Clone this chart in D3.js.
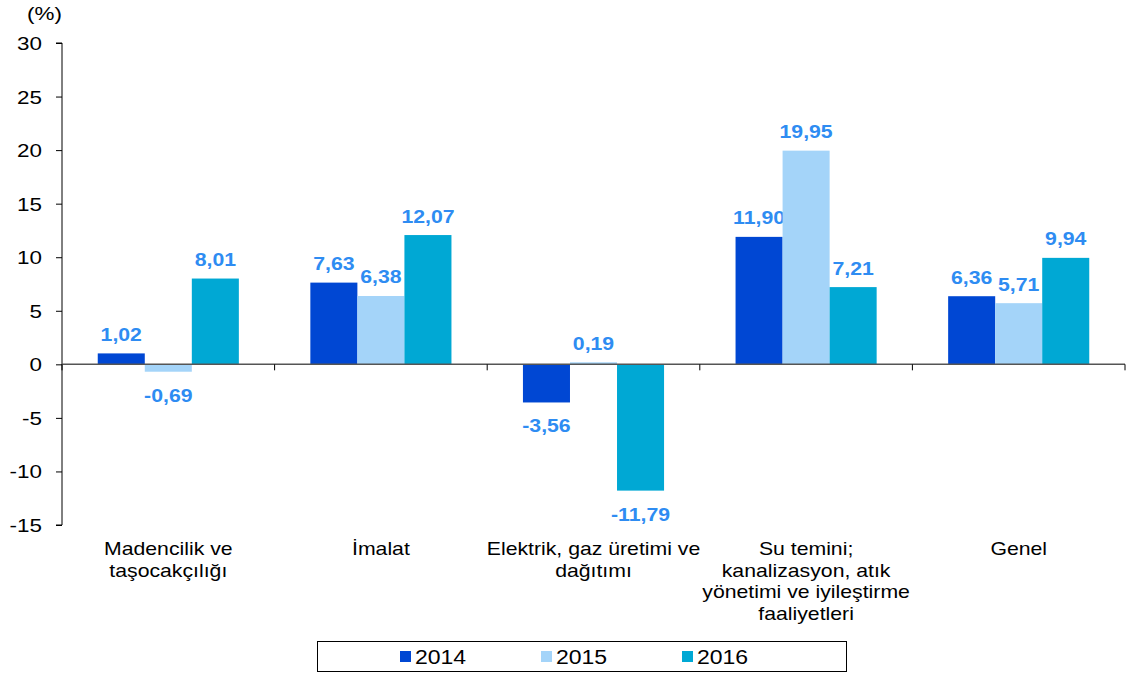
<!DOCTYPE html>
<html><head><meta charset="utf-8">
<script src="https://cdn.jsdelivr.net/npm/d3@7/dist/d3.min.js"></script>
<style>body{margin:0;background:#fff}svg{display:block}text{font-family:"Liberation Sans",Arial,sans-serif}</style>
</head><body>
<svg id="c" width="1128" height="674"></svg>
<script>
const categories = [
  ["Madencilik ve","taşocakçılığı"],
  ["İmalat"],
  ["Elektrik, gaz üretimi ve","dağıtımı"],
  ["Su temini;","kanalizasyon, atık","yönetimi ve iyileştirme","faaliyetleri"],
  ["Genel"]
];
const years = ["2014","2015","2016"];
const values2014 = [1.02, 7.63, -3.56, 11.90, 6.36];
const values2015 = [-0.69, 6.38, 0.19, 19.95, 5.71];
const values2016 = [8.01, 12.07, -11.79, 7.21, 9.94];
const yTicks = [30,25,20,15,10,5,0,-5,-10,-15];
const colors = ["#0047d3","#a4d4f9","#00a8d4"];

const SX = 1.18;
const series = [values2014, values2015, values2016];
const svg = d3.select("#c");
const x0 = d3.scaleBand().domain(d3.range(categories.length)).range([62,1125]).paddingInner(0).paddingOuter(0);
const x1 = d3.scaleBand().domain(d3.range(years.length)).range([0,x0.bandwidth()]).paddingOuter(0.76).paddingInner(0);
const y = d3.scaleLinear().domain([-15,30]).range([525,43]);

function txt(x, yy, lines, opts){
  const g = svg.append("g").attr("transform",`translate(${x},${yy}) scale(${SX},1)`);
  const t = g.append("text").attr("font-size",opts.size).attr("fill",opts.fill||"#000")
    .attr("text-anchor",opts.anchor||"middle").attr("font-weight",opts.weight||"normal");
  [].concat(lines).forEach((l,k)=>{
    t.append("tspan").attr("x",0).attr("y",k*(opts.lh||0)).text(l);
  });
  return t;
}

// y axis
const ya = svg.append("g").attr("transform","translate(62,0)")
  .call(d3.axisLeft(y).tickValues(yTicks).tickSize(6).tickFormat(""));
ya.select(".domain").attr("stroke","#000").attr("d","M-6,"+y(30)+"H0V"+y(-15)+"H-6");
ya.selectAll(".tick line").attr("stroke","#000");
yTicks.forEach(v=>txt(42, y(v)+7, String(v), {size:19, anchor:"end"}));

txt(27, 20, "(%)", {size:19, anchor:"start"});

// bars
const fmt = v => v.toFixed(2).replace(".",",");
categories.forEach((c,i)=>{
  series.forEach((s,j)=>{
    const v = s[i];
    const bx = x0(i)+x1(j);
    svg.append("rect").attr("x",bx).attr("width",x1.bandwidth())
      .attr("y",y(Math.max(0,v))).attr("height",Math.abs(y(v)-y(0)))
      .attr("fill",colors[j]);
    txt(bx+x1.bandwidth()/2, v>=0 ? y(v)-12.5 : y(v)+30, fmt(v),
      {size:18, weight:"bold", fill:"#2e8cf2"});
  });
});

// x axis
const xa = svg.append("g").attr("transform","translate(0,"+y(0)+")");
xa.append("line").attr("x1",62).attr("x2",1125).attr("stroke","#555").attr("stroke-width",1.5);
d3.range(categories.length+1).forEach(i=>{
  const tx = i<categories.length ? x0(i) : x0.range()[1];
  xa.append("line").attr("x1",tx).attr("x2",tx).attr("y1",0).attr("y2",6).attr("stroke","#000");
});

// category labels
categories.forEach((c,i)=>{
  txt(x0(i)+x0.bandwidth()/2, 555, c, {size:18, lh:21.7});
});

// legend
svg.append("rect").attr("x",317.5).attr("y",641.5).attr("width",529).attr("height",30).attr("fill","#fff").attr("stroke","#000");
const legX = [400,541,682];
years.forEach((yr,j)=>{
  svg.append("rect").attr("x",legX[j]).attr("y",651).attr("width",11).attr("height",11).attr("fill",colors[j]);
  txt(legX[j]+15, 664, yr, {size:19.5, anchor:"start"});
});
</script>
</body></html>
